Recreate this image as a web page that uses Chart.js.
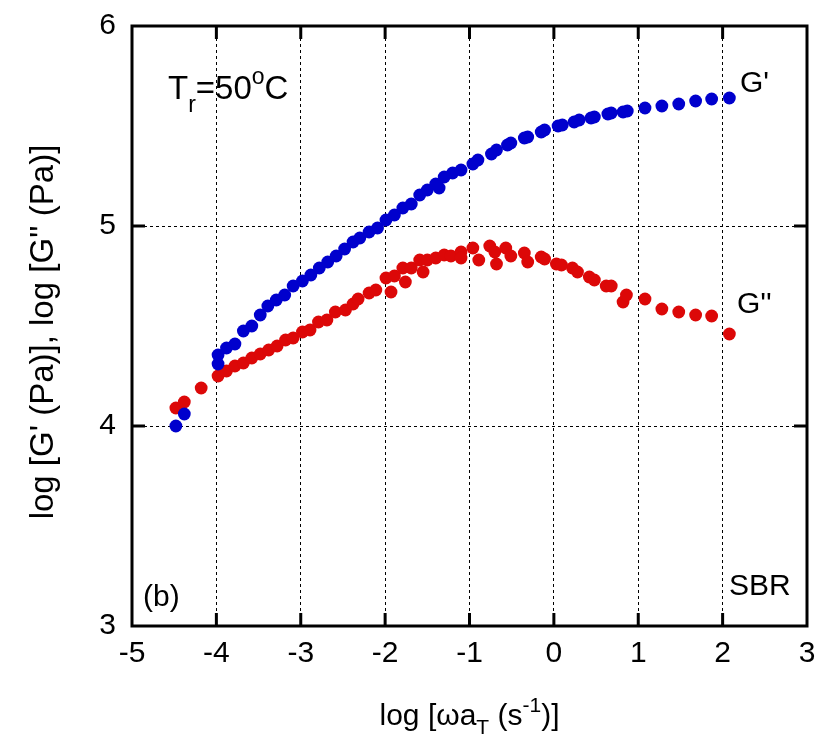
<!DOCTYPE html>
<html>
<head>
<meta charset="utf-8">
<script src="https://cdn.jsdelivr.net/npm/chart.js@4"></script>
<style>
  html, body { margin: 0; padding: 0; background: #fff; }
  #wrap { width: 817px; height: 744px; }
</style>
</head>
<body>
<div id="wrap"><canvas id="chart" width="817" height="744"></canvas></div>
<script>
// G' (storage modulus), log scale
const gpX = [-4.48, -4.38, -3.98, -3.98, -3.88, -3.78, -3.68, -3.58, -3.48, -3.39, -3.29, -3.19, -3.09, -2.98, -2.88,
  -2.78, -2.68, -2.58, -2.48, -2.38, -2.30, -2.19, -2.09, -1.99, -1.89, -1.79, -1.69, -1.59, -1.50, -1.40, -1.36,
  -1.30, -1.20, -1.10, -0.96, -0.90, -0.74, -0.68, -0.55, -0.51, -0.35, -0.31, -0.15, -0.11, 0.05, 0.10, 0.24, 0.30,
  0.44, 0.48, 0.64, 0.68, 0.82, 0.87, 1.08, 1.28, 1.48, 1.68, 1.87, 2.08];
const gpY = [4.00, 4.06, 4.31, 4.355, 4.39, 4.41, 4.475, 4.50, 4.555, 4.60, 4.63, 4.655, 4.70, 4.725, 4.755,
  4.79, 4.82, 4.85, 4.885, 4.92, 4.94, 4.97, 4.99, 5.03, 5.055, 5.09, 5.11, 5.155, 5.18, 5.21, 5.19,
  5.245, 5.265, 5.28, 5.31, 5.33, 5.36, 5.38, 5.405, 5.415, 5.44, 5.445, 5.47, 5.48, 5.50, 5.505, 5.52, 5.53,
  5.54, 5.545, 5.56, 5.565, 5.57, 5.575, 5.59, 5.60, 5.61, 5.625, 5.635, 5.64];

// G'' (loss modulus)
const gppX = [-4.48, -4.38, -4.18, -3.98, -3.88, -3.78, -3.68, -3.58, -3.48, -3.38, -3.28, -3.18, -3.09, -2.98, -2.89,
  -2.79, -2.69, -2.59, -2.47, -2.38, -2.32, -2.19, -2.11, -1.99, -1.93, -1.89, -1.79, -1.76, -1.69, -1.59, -1.55,
  -1.50, -1.40, -1.30, -1.22, -1.10, -1.10, -0.96, -0.89, -0.76, -0.70, -0.68, -0.57, -0.51, -0.35, -0.31, -0.15,
  -0.11, 0.03, 0.09, 0.22, 0.28, 0.42, 0.48, 0.62, 0.68, 0.82, 0.86, 1.08, 1.28, 1.48, 1.68, 1.87, 2.08];
const gppY = [4.09, 4.12, 4.19, 4.25, 4.275, 4.30, 4.315, 4.34, 4.36, 4.38, 4.40, 4.43, 4.44, 4.47, 4.48,
  4.52, 4.53, 4.57, 4.58, 4.61, 4.635, 4.665, 4.68, 4.74, 4.67, 4.75, 4.79, 4.72, 4.79, 4.83, 4.77,
  4.83, 4.84, 4.855, 4.85, 4.87, 4.84, 4.89, 4.83, 4.90, 4.87, 4.81, 4.89, 4.85, 4.865, 4.82, 4.845,
  4.835, 4.81, 4.805, 4.79, 4.77, 4.745, 4.73, 4.70, 4.70, 4.62, 4.655, 4.635, 4.585, 4.57, 4.555, 4.55, 4.46];

const xTicks = [-5, -4, -3, -2, -1, 0, 1, 2, 3];
const yTicks = [3, 4, 5, 6];

const FONT = '"Liberation Sans", Arial, sans-serif';
const BLUE = 'rgb(0, 0, 205)';
const RED = 'rgb(220, 8, 8)';

const toPoints = (xs, ys) => xs.map((x, i) => ({ x: x, y: ys[i] }));

// draw a run of text pieces: [text, sizeFactor, baselineShift]
function richText(ctx, x, y, size, parts, align) {
    let w = 0;
    parts.forEach(p => {
        ctx.font = `${Math.round(size * (p[1] || 1))}px ${FONT}`;
        w += ctx.measureText(p[0]).width;
    });
    let cx = align === 'center' ? x - w / 2 : x;
    parts.forEach(p => {
        ctx.font = `${Math.round(size * (p[1] || 1))}px ${FONT}`;
        ctx.fillText(p[0], cx, y + (p[2] || 0));
        cx += ctx.measureText(p[0]).width;
    });
}

// keep the plot box where it is in the original, whatever the tick labels overhang
const noOverhang = (scale) => {
    scale.paddingTop = 0;
    scale.paddingBottom = 0;
    scale.paddingLeft = 0;
    scale.paddingRight = 0;
};

const framePlugin = {
    id: 'frame',
    afterDraw(chart) {
        const { ctx, chartArea: a, scales } = chart;
        ctx.save();
        ctx.strokeStyle = '#000';
        ctx.lineWidth = 3;
        ctx.strokeRect(a.left, a.top, a.right - a.left, a.bottom - a.top);

        // inward ticks on all four sides
        const len = 13;
        ctx.beginPath();
        xTicks.slice(1, -1).forEach(v => {
            const px = scales.x.getPixelForValue(v);
            ctx.moveTo(px, a.bottom); ctx.lineTo(px, a.bottom - len);
            ctx.moveTo(px, a.top); ctx.lineTo(px, a.top + len);
        });
        yTicks.slice(1, -1).forEach(v => {
            const py = scales.y.getPixelForValue(v);
            ctx.moveTo(a.left, py); ctx.lineTo(a.left + len, py);
            ctx.moveTo(a.right, py); ctx.lineTo(a.right - len, py);
        });
        ctx.stroke();

        ctx.fillStyle = '#000';
        ctx.textBaseline = 'alphabetic';
        ctx.textAlign = 'left';

        // axis titles
        richText(ctx, (a.left + a.right) / 2, 725, 30, [
            ['log [\u03c9a'], ['T', 0.7, 9], [' (s'], ['-1', 0.7, -13], [')]']
        ], 'center');

        ctx.save();
        ctx.translate(53, 332);
        ctx.rotate(-Math.PI / 2);
        richText(ctx, 0, 0, 33, [["log [G' (Pa)], log [G'' (Pa)]"]], 'center');
        ctx.restore();

        // annotations
        richText(ctx, 168, 99, 33, [['T'], ['r', 0.7, 13], ['=50'], ['o', 0.7, -15], ['C']]);
        richText(ctx, 740, 92, 30, [["G'"]]);
        richText(ctx, 737, 313, 30, [["G''"]]);
        richText(ctx, 143, 606, 30, [['(b)']]);
        richText(ctx, 729, 595, 30, [['SBR']]);
        ctx.restore();
    }
};

new Chart(document.getElementById('chart'), {
    type: 'scatter',
    data: {
        datasets: [
            {
                label: "G'",
                data: toPoints(gpX, gpY),
                backgroundColor: BLUE,
                borderColor: BLUE,
                pointRadius: 6.4,
                borderWidth: 0
            },
            {
                label: "G''",
                data: toPoints(gppX, gppY),
                backgroundColor: RED,
                borderColor: RED,
                pointRadius: 6.4,
                borderWidth: 0
            }
        ]
    },
    options: {
        responsive: false,
        animation: false,
        events: [],
        layout: { padding: { left: 0, top: 26, right: 10, bottom: 0 } },
        plugins: { legend: { display: false }, tooltip: { enabled: false } },
        scales: {
            x: {
                type: 'linear',
                min: -5,
                max: 3,
                afterBuildTicks: (scale) => { scale.ticks = xTicks.map(v => ({ value: v })); },
                afterFit: (scale) => { scale.height = 118; noOverhang(scale); },
                grid: { color: '#000', lineWidth: 1, drawTicks: false },
                border: { display: false, dash: [3, 3] },
                ticks: { color: '#000', padding: 10, font: { family: FONT, size: 30 }, maxRotation: 0 }
            },
            y: {
                type: 'linear',
                min: 3,
                max: 6,
                afterBuildTicks: (scale) => { scale.ticks = yTicks.map(v => ({ value: v })); },
                afterFit: (scale) => { scale.width = 132; noOverhang(scale); },
                grid: { color: '#000', lineWidth: 1, drawTicks: false },
                border: { display: false, dash: [3, 3] },
                ticks: { color: '#000', padding: 16, font: { family: FONT, size: 30 } }
            }
        }
    },
    plugins: [framePlugin]
});
</script>
</body>
</html>
